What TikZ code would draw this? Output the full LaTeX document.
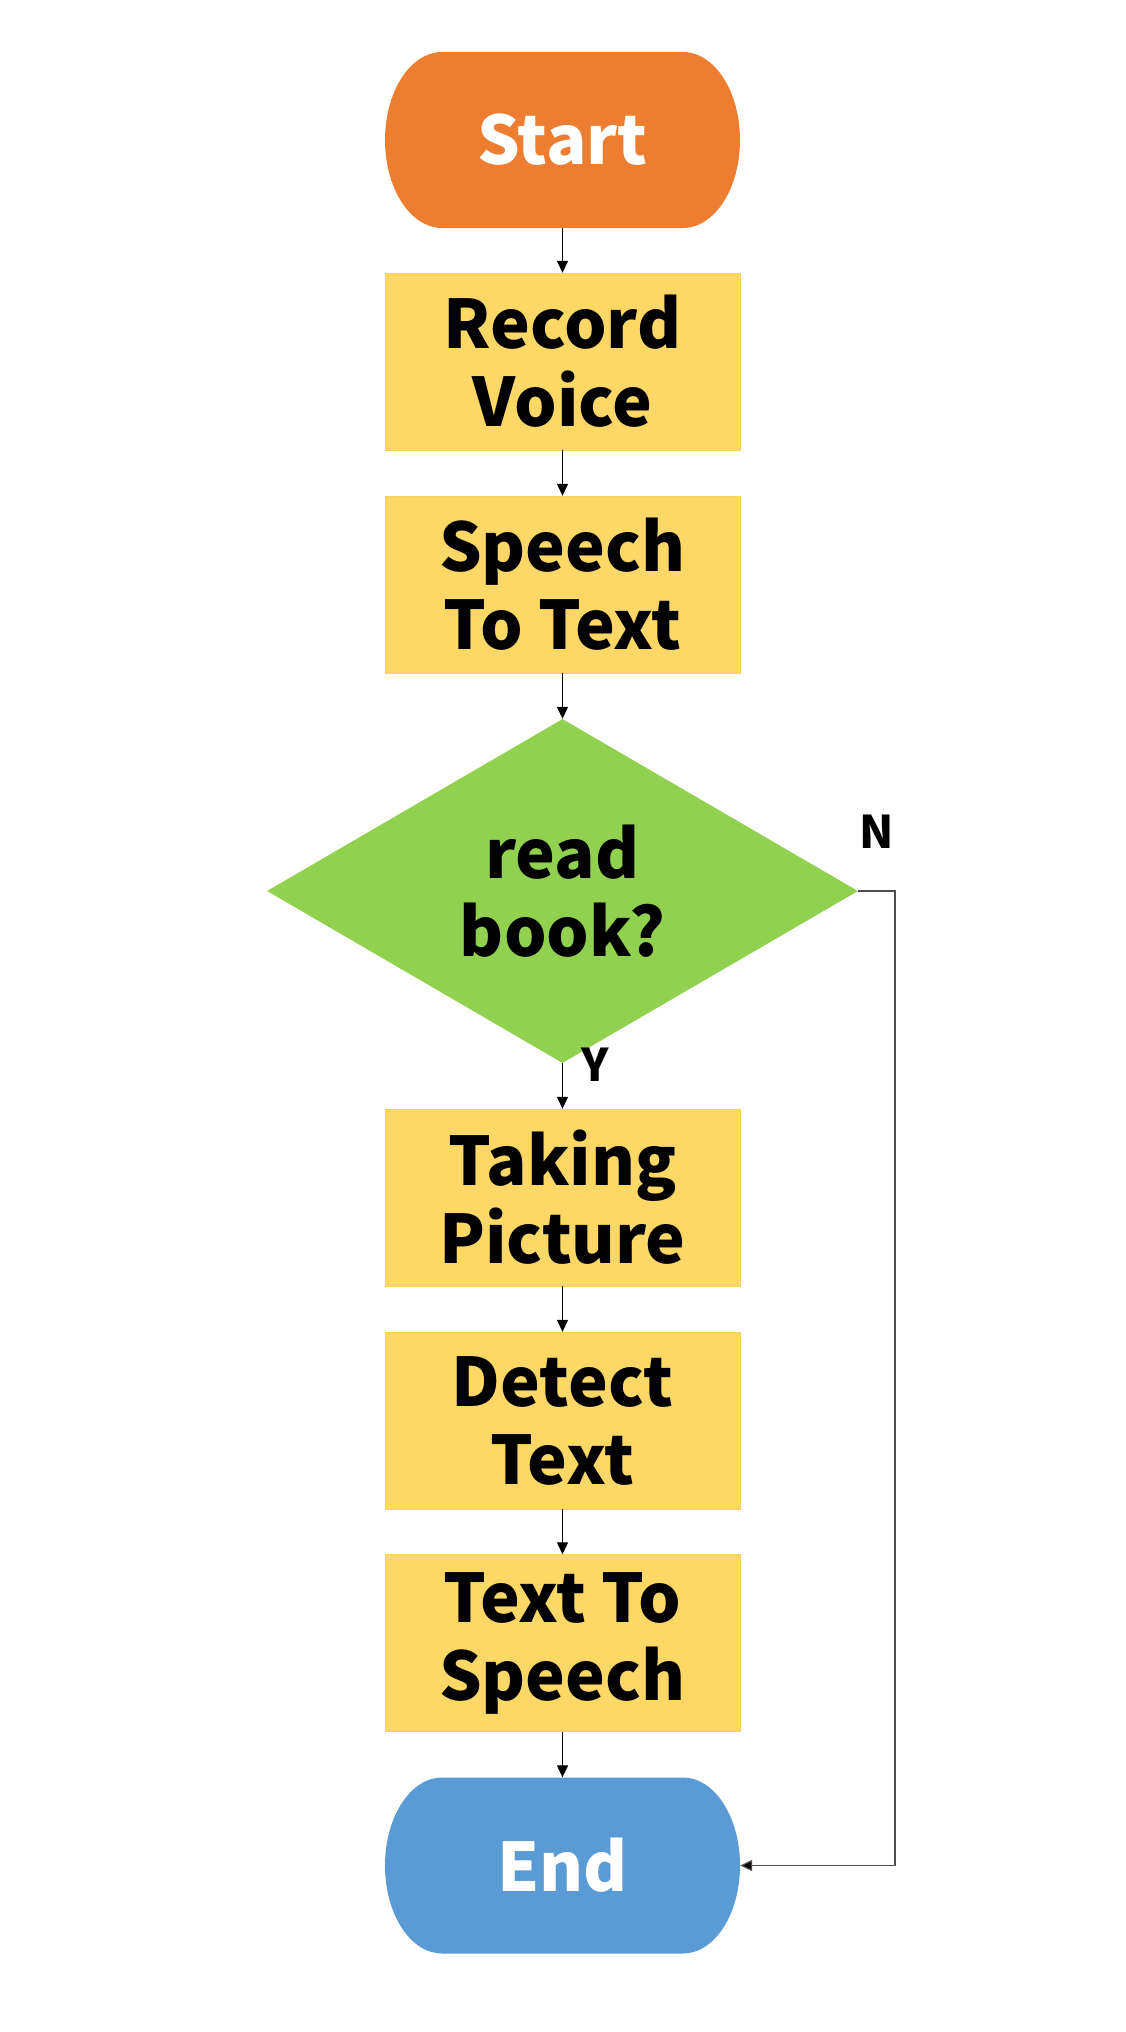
\documentclass[tikz,border=0pt]{standalone}
\usepackage{fontspec}
\setmainfont{Noto Sans CJK SC}
\usetikzlibrary{shapes.geometric,arrows.meta}
\definecolor{startOrange}{RGB}{237,125,49}
\definecolor{stepYellow}{RGB}{253,216,102}
\definecolor{askGreen}{RGB}{146,208,80}
\definecolor{endBlue}{RGB}{91,155,213}

\tikzset{
  terminal/.style={rectangle, minimum width=355pt, minimum height=176pt, text=white,
    path picture={\fill[#1] ([xshift=57pt]path picture bounding box.north west)
      -- ([xshift=-57pt]path picture bounding box.north east)
      arc[start angle=90, end angle=-90, x radius=57pt, y radius=88pt]
      -- ([xshift=57pt]path picture bounding box.south west)
      arc[start angle=270, end angle=90, x radius=57pt, y radius=88pt] -- cycle;}}
}

\begin{document}
\begin{tikzpicture}[x=1pt, y=-1pt, font=\fontsize{67}{78}\selectfont\bfseries]
		\useasboundingbox (0,0) rectangle (1125,2032);

		% Start and end
		\node (start) at (562.5,140) [terminal=startOrange] {Start};
		\node (end) at (562.5,1865.5) [terminal=endBlue] {End};

		% Steps
		\begin{scope}[every node/.style={rectangle,fill=stepYellow,draw=stepYellow!90!orange,thin,
				minimum width=355pt,minimum height=177pt,align=center,inner sep=0pt}]
			\node (record) at (562.5,361.5) {Record\\Voice};
			\node (stt) at (562.5,584.5) {Speech\\To Text};
			\node (picture) at (562.5,1197.5) {Taking\\Picture};
			\node (detect) at (562.5,1420.5) {Detect\\Text};
			\node (tts) at (562.5,1643) {Text To\\Speech};
		\end{scope}

		% Decision
		\node (book) at (562.5,891) [diamond,fill=askGreen,aspect=1.718,minimum width=591pt,
			minimum height=344pt,inner sep=0pt,align=center] {read\\book?};
		\node (yes) at (595,1065) [font=\fontsize{45}{45}\selectfont\bfseries] {Y};
		\node (no) at (877,832) [font=\fontsize{45}{45}\selectfont\bfseries] {N};
		\coordinate (turn) at (895,891);

		% Arrows
		\begin{scope}[every edge/.style={draw=black,line width=1.3pt}]
			\path [-{Triangle[length=12pt,width=11pt]}] (start) edge (record);
			\path [-{Triangle[length=12pt,width=11pt]}] (record) edge (stt);
			\path [-{Triangle[length=12pt,width=11pt]}] (stt) edge (book);
			\path [-{Triangle[length=12pt,width=11pt]}] (book) edge (picture);
			\path [-{Triangle[length=12pt,width=11pt]}] (picture) edge (detect);
			\path [-{Triangle[length=12pt,width=11pt]}] (detect) edge (tts);
			\path [-{Triangle[length=12pt,width=11pt]}] (tts) edge (end);
		\end{scope}
		\draw [line width=1.3pt,draw=black!70,-{Triangle[length=12pt,width=11pt,fill=black]}]
			(book.east) -- (turn) |- (end.east);
	\end{tikzpicture}
\end{document}
